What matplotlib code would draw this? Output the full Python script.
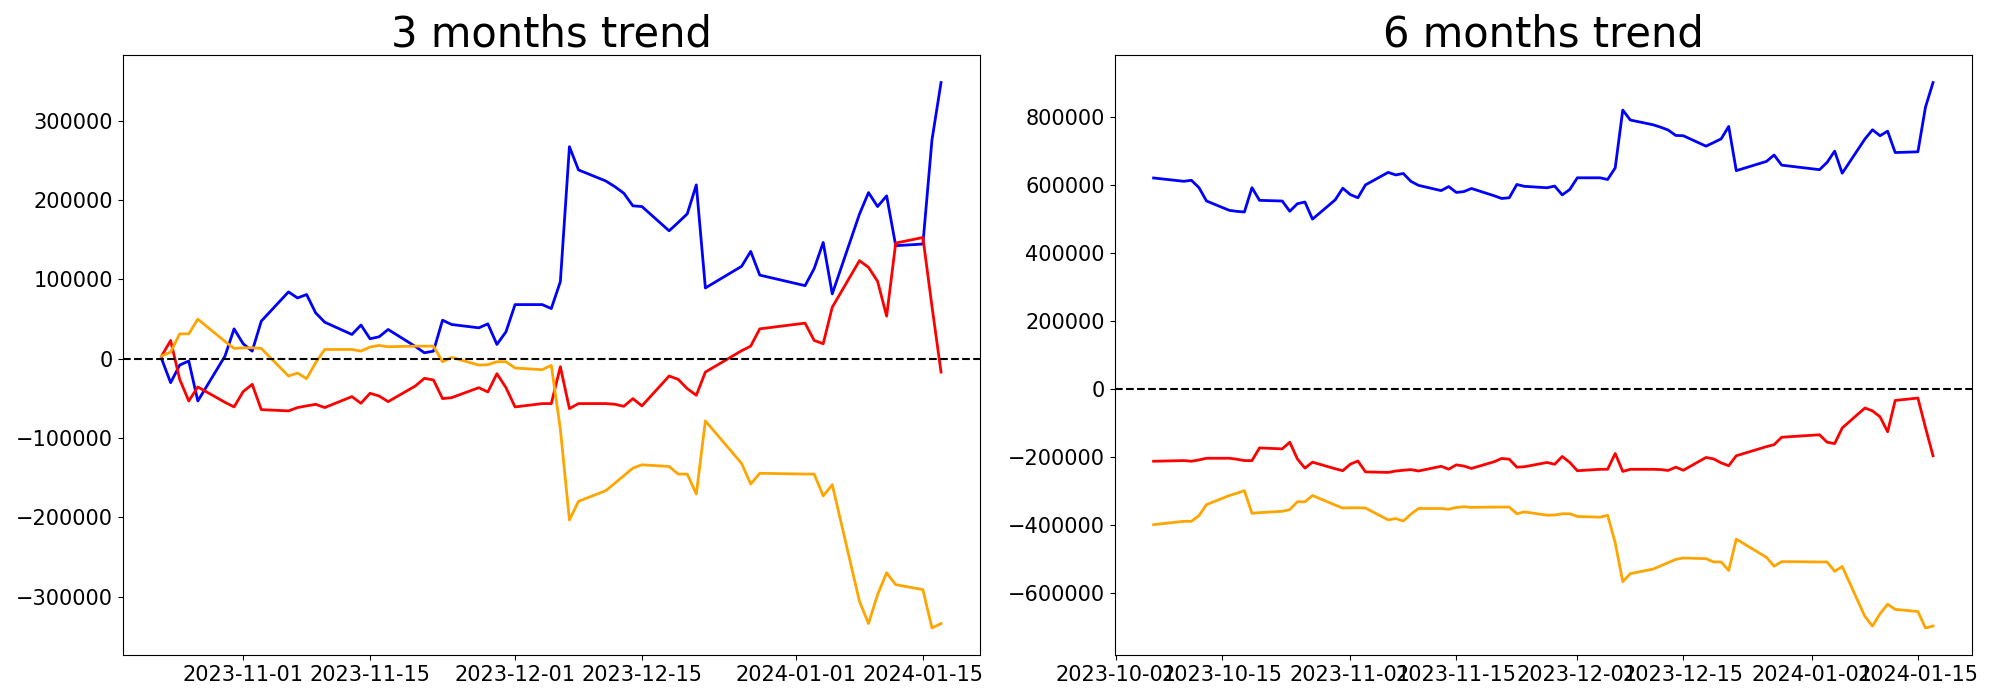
import pandas as pd
import matplotlib
matplotlib.use("Agg")
import matplotlib.pyplot as plt

holidays = ["2023-10-09", "2023-12-25", "2023-12-29", "2024-01-01"]

pre_dates = pd.bdate_range("2023-10-06", "2023-10-20")
pre_dates = pre_dates[~pre_dates.isin(pd.to_datetime(holidays))]
dates = pd.bdate_range("2023-10-23", "2024-01-17")
dates = dates[~dates.isin(pd.to_datetime(holidays))]

# 3 months: cumulative since 2023-10-23
blue_3m = [0, -30200, -8000, -2900, -53300,
           3400, 37700, 18900, 9600, 47400,
           84300, 76700, 81000, 57900, 46100,
           30600, 42500, 25200, 27700, 36900,
           15500, 7500, 9600, 48600, 43200,
           39000, 44000, 18000, 34000, 68300,
           68300, 63300, 97300, 267500, 238200,
           224300, 217200, 208800, 192900, 192000,
           161400, 171900, 182800, 219300, 89300,
           116600, 135400, 105500,
           92200, 113600, 146700, 81800,
           182400, 209600, 192000, 205500, 142600,
           144700, 275900, 348400]
red_3m = [3400, 23000, -26000, -53300, -35600,
          -55000, -60800, -41500, -32300, -64200,
          -65800, -61600, -59500, -57500, -61600,
          -47800, -56200, -43600, -47000, -54100,
          -34400, -24700, -26800, -50300, -49100,
          -36500, -41900, -18900, -36500, -60800,
          -56600, -56600, -10100, -62900, -56600,
          -56600, -57400, -60000, -50300, -59500,
          -21800, -26000, -37700, -46100, -16800,
          10100, 15900, 37700,
          44900, 23100, 18900, 65000,
          123700, 115300, 97700, 53700, 145900,
          153000, 66200, -16800]
orange_3m = [3400, 8400, 31400, 31400, 49900,
             21800, 13000, 13800, 13800, 13000,
             -21800, -18000, -25200, -5000, 11700,
             11700, 9600, 14700, 16800, 15100,
             15900, 15900, 15900, -3800, 1700,
             -8000, -7500, -3800, -3800, -11700,
             -13800, -8400, -88900, -203400, -179900,
             -166500, -157200, -147600, -138000, -133800,
             -135900, -145500, -145500, -170700, -78400,
             -132100, -158100, -144500,
             -145500, -145500, -173000, -158900,
             -306000, -334100, -297600, -270000, -285000,
             -291300, -339600, -334100]

# 6 months: levels before 2023-10-23 and the level the 3 month sums start from
blue_pre = [619300, 609500, 612400, 590800, 551500,
            524100, 521100, 519200, 590800, 553500]
red_pre = [-213900, -212000, -213900, -210000, -205100,
           -205100, -208000, -212000, -212000, -174700]
orange_pre = [-400400, -390600, -390600, -373900, -341500,
              -315000, -308200, -300300, -367000, -365100]
base = {"blue": 551500, "red": -181000, "orange": -364600}

series_3m = {"blue": blue_3m, "red": red_3m, "orange": orange_3m}
series_pre = {"blue": blue_pre, "red": red_pre, "orange": orange_pre}

dates_6m = pre_dates.append(dates)

fig, axes = plt.subplots(1, 2, figsize=(20, 7), dpi=100)
plt.subplots_adjust(left=0.0613, right=0.986, bottom=0.064, top=0.921, wspace=0.157)

ax = axes[0]
for color, vals in series_3m.items():
    ax.plot(dates, vals, color=color, linewidth=2)
ax.axhline(0, color="black", linestyle="--", linewidth=1.5)
ax.set_title("3 months trend", fontsize=30)
ax.tick_params(labelsize=15)

ax = axes[1]
for color, vals in series_3m.items():
    full = list(series_pre[color]) + [v + base[color] for v in vals]
    ax.plot(dates_6m, full, color=color, linewidth=2)
ax.axhline(0, color="black", linestyle="--", linewidth=1.5)
ax.set_title("6 months trend", fontsize=30)
ax.tick_params(labelsize=15)

plt.savefig("out.png", dpi=100)
